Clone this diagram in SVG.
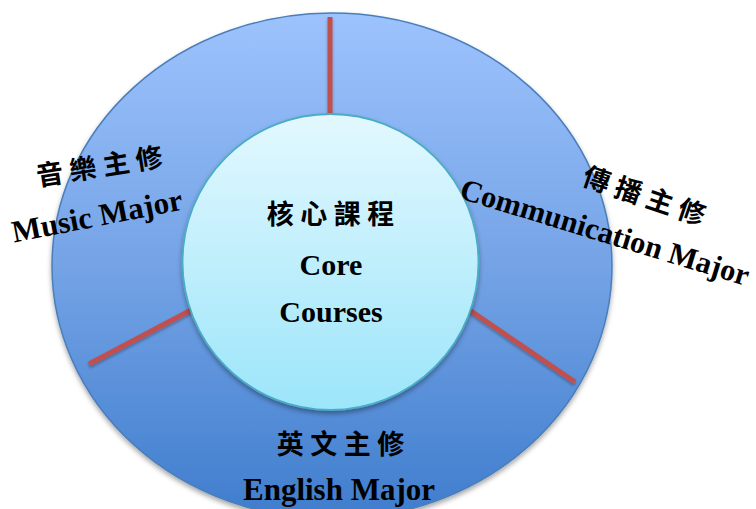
<svg xmlns="http://www.w3.org/2000/svg" width="756" height="509" viewBox="0 0 756 509">
<defs>
<linearGradient id="gOuter" x1="0" y1="0" x2="0" y2="1">
<stop offset="0" stop-color="#9DC3FD"/>
<stop offset="0.5" stop-color="#74A3E6"/>
<stop offset="1" stop-color="#3F7DCD"/>
</linearGradient>
<linearGradient id="gInner" x1="0" y1="0" x2="0" y2="1">
<stop offset="0" stop-color="#E3F8FE"/>
<stop offset="1" stop-color="#9CE5FA"/>
</linearGradient>
<filter id="shadow" x="-10%" y="-10%" width="120%" height="125%">
<feDropShadow dx="0" dy="3" stdDeviation="2.5" flood-color="#000" flood-opacity="0.35"/>
</filter>
<filter id="lshadow" filterUnits="userSpaceOnUse" x="0" y="0" width="756" height="509">
<feDropShadow dx="0" dy="2" stdDeviation="1.5" flood-color="#000" flood-opacity="0.3"/>
</filter>
</defs>
<style>
.en{font-family:"Liberation Serif","Times New Roman",serif;font-weight:bold;fill:#000;}
.zh{font-family:"Noto Sans CJK TC","Noto Sans CJK SC",sans-serif;font-weight:bold;fill:#000;font-size:27px;letter-spacing:6.5px;}
.div{stroke:#C0504D;stroke-width:5;fill:none;filter:url(#lshadow);}
</style>
<g id="ring">
<ellipse cx="332" cy="266" rx="280" ry="253" fill="url(#gOuter)" stroke="#4A7EBB" stroke-width="1.5" filter="url(#shadow)"/>
</g>
<g id="connectors">
<line class="div" x1="330" y1="17" x2="330" y2="113"/>
<line class="div" x1="89" y1="364" x2="193" y2="309"/>
<line class="div" x1="468" y1="309" x2="575" y2="382"/>
</g>
<g id="core">
<circle cx="330.5" cy="262" r="148" fill="url(#gInner)" stroke="#4BACC6" stroke-width="1.8" filter="url(#shadow)"/>
<text class="zh" x="333.75" y="224" text-anchor="middle">核心課程</text>
<text class="en" x="331" y="275" font-size="30" text-anchor="middle">Core</text>
<text class="en" x="331" y="322" font-size="30" text-anchor="middle">Courses</text>
</g>
<g id="music">
<text class="zh" transform="translate(101,176) rotate(-9)" x="3.25" y="0" text-anchor="middle">音樂主修</text>
<text class="en" transform="translate(99,226) rotate(-11)" x="0" y="0" font-size="31" text-anchor="middle">Music Major</text>
</g>
<g id="communication">
<text class="zh" transform="translate(641,205) rotate(19)" x="3.25" y="0" text-anchor="middle">傳播主修</text>
<text class="en" transform="translate(602,242) rotate(17)" x="0" y="0" font-size="30.5" text-anchor="middle">Communication Major</text>
</g>
<g id="english">
<text class="zh" x="343.75" y="454" text-anchor="middle">英文主修</text>
<text class="en" x="339" y="500" font-size="31" text-anchor="middle">English Major</text>
</g>
</svg>
